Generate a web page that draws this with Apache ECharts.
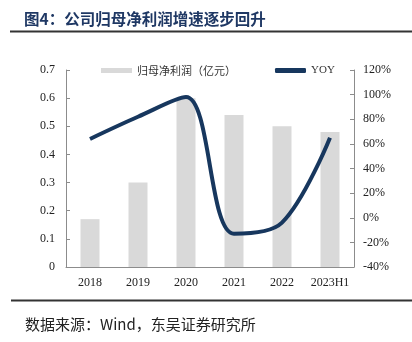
<!DOCTYPE html>
<html><head><meta charset="utf-8">
<script src="https://cdn.jsdelivr.net/npm/echarts@6/dist/echarts.min.js"></script>
<style>html,body{margin:0;padding:0;background:#fff}#c{width:412px;height:342px}</style>
</head><body><div id="c"></div>
<script>
const categories = ['2018','2019','2020','2021','2022','2023H1'];
const profit = [0.17, 0.30, 0.60, 0.54, 0.50, 0.48];
const yoy = [64, 82, 98, -13, -4, 65];
const leftTicks = [0, 0.7, 0.1];
const rightTicks = [-40, 120, 20];

const serif = '"Liberation Serif","Times New Roman",serif';
const cjk = '"Noto Sans CJK SC",sans-serif';
const axisColor = '#8c8c8c';

const chart = echarts.init(document.getElementById('c'), null, {renderer:'canvas'});
chart.setOption({
  animation: false,
  backgroundColor: '#fff',
  title: [{
    text: '图4：公司归母净利润增速逐步回升',
    left: 19, top: 6,
    textStyle: {fontFamily: cjk, fontSize: 15.5, fontWeight: 'bold', color: '#1f3864'}
  },{
    text: '数据来源：Wind，东吴证券研究所',
    left: 20, top: 312,
    textStyle: {fontFamily: cjk, fontSize: 15, fontWeight: 'normal', color: '#222'}
  }],
  graphic: [{
    type: 'line', shape: {x1: 10, y1: 31.5, x2: 412, y2: 31.5},
    style: {stroke: '#333', lineWidth: 2}
  },{
    type: 'line', shape: {x1: 11, y1: 300.5, x2: 412, y2: 300.5},
    style: {stroke: '#333', lineWidth: 2}
  }],
  legend: {
    left: 96, top: 60,
    itemWidth: 31, itemHeight: 5, itemGap: 39,
    textStyle: {fontFamily: cjk, fontSize: 11, color: '#333'},
    data: [
      {name: '归母净利润（亿元）', icon: 'rect'},
      {name: 'YOY', icon: 'roundRect', textStyle: {fontFamily: serif}}
    ]
  },
  grid: {left: 66, right: 58, top: 70, bottom: 75},
  xAxis: {
    type: 'category', data: categories,
    axisLine: {lineStyle: {color: axisColor}},
    axisTick: {inside: true, length: 4, lineStyle: {color: axisColor}},
    axisLabel: {fontFamily: serif, fontSize: 12, color: '#222', margin: 10, interval: 0}
  },
  yAxis: [{
    type: 'value', min: leftTicks[0], max: leftTicks[1], interval: leftTicks[2],
    axisLine: {show: true, lineStyle: {color: axisColor}},
    axisTick: {show: true, inside: true, length: 4, lineStyle: {color: axisColor}},
    splitLine: {show: false},
    axisLabel: {fontFamily: serif, fontSize: 12, color: '#222', margin: 11,
      formatter: v => v === 0 ? '0' : v.toFixed(1)}
  },{
    type: 'value', min: rightTicks[0], max: rightTicks[1], interval: rightTicks[2],
    position: 'right',
    axisLine: {show: true, lineStyle: {color: axisColor}},
    axisTick: {show: true, inside: true, length: 4, lineStyle: {color: axisColor}},
    splitLine: {show: false},
    axisLabel: {fontFamily: serif, fontSize: 12, color: '#222', margin: 9,
      formatter: v => v + '%'}
  }],
  series: [{
    name: '归母净利润（亿元）', type: 'bar', data: profit,
    barWidth: 19, itemStyle: {color: '#d9d9d9'}
  },{
    name: 'YOY', type: 'line', yAxisIndex: 1, data: yoy,
    smooth: 0.35, symbol: 'none',
    lineStyle: {width: 4, color: '#17375e'}, itemStyle: {color: '#17375e'}
  }]
});
</script></body></html>
